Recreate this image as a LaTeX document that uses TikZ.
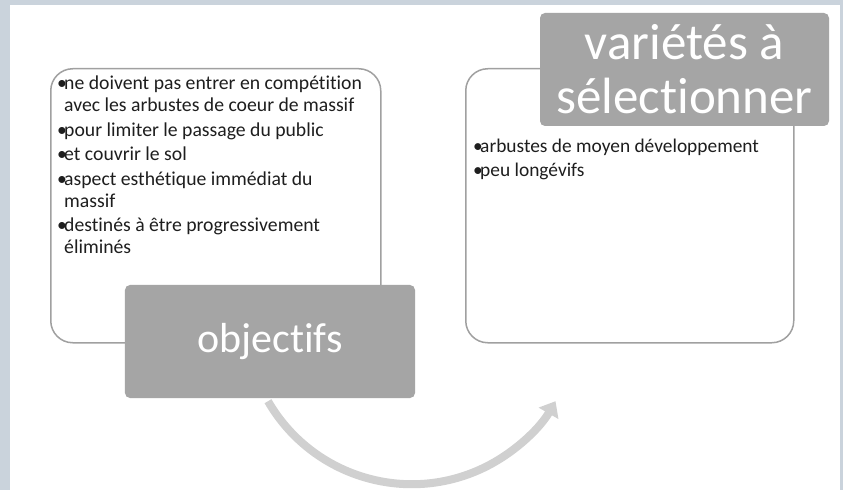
\documentclass[tikz,border=0pt]{standalone}
\usepackage{fontspec}
\setmainfont{Carlito}[Ligatures={NoCommon,NoContextual,NoRare}]
\usetikzlibrary{arrows.meta}
\definecolor{bgc}{HTML}{CAD3DC}
\definecolor{boxg}{HTML}{A5A5A5}
\definecolor{edgeg}{HTML}{A0A0A0}
\definecolor{arrg}{HTML}{D0D0D0}
\definecolor{txt}{HTML}{1E1E1E}
\newcommand\mybul{\makebox[7bp][l]{•}}
\tikzset{
  panel/.style={draw=edgeg, line width=1.5bp, rounded corners=22bp, fill=white, inner sep=0pt, anchor=north west},
  header/.style={fill=boxg, rounded corners=5bp, text=white, align=center, inner sep=0pt},
  itm/.style={anchor=base west, inner sep=0pt, text=txt, font=\fontsize{19.7bp}{22bp}\selectfont},
  itmr/.style={itm, font=\fontsize{19.4bp}{22bp}\selectfont},
  flow/.style={line width=8bp, draw=arrg, -{Triangle[length=14bp,width=22bp]}}
}
\begin{document}
\begin{tikzpicture}[x=1bp,y=-1bp]
\fill[bgc] (0,0) rectangle (843,490);
\fill[white] (10,5) rectangle (840,490);
\useasboundingbox (0,0) rectangle (843,490);

\node[panel, minimum width=330bp, minimum height=274bp] (leftpanel) at (50,68) {};
\node[panel, minimum width=328bp, minimum height=274bp] (rightpanel) at (465,68) {};

\node[itm] (l1) at (57,90) {\mybul ne doivent pas entrer en compétition};
\node[itm] (l1b) at (64,112) {avec les arbustes de coeur de massif};
\node[itm] (l2) at (57,136.5) {\mybul pour limiter le passage du public};
\node[itm] (l3) at (57,161) {\mybul et couvrir le sol};
\node[itm] (l4) at (57,185.5) {\mybul aspect esthétique immédiat du};
\node[itm] (l4b) at (64,207.5) {massif};
\node[itm] (l5) at (57,232) {\mybul destinés à être progressivement};
\node[itm] (l5b) at (64,254) {éliminés};

\node[itmr] (r1) at (473,153) {\mybul arbustes de moyen développement};
\node[itmr] (r2) at (473,177) {\mybul peu longévifs};

\node[header, minimum width=290bp, minimum height=113bp, font=\fontsize{42bp}{46bp}\selectfont] (obj) at (270,341.5) {objectifs};
\node[header, minimum width=289bp, minimum height=113bp, font=\fontsize{51bp}{54bp}\selectfont] (var) at (684.5,69.5) {variétés à\\sélectionner};

\coordinate (arcstart) at ([xshift=-2bp,yshift=-3bp]obj.south);
\draw[flow] (arcstart) arc[start angle=150, end angle=30, radius=166];
\end{tikzpicture}
\end{document}
